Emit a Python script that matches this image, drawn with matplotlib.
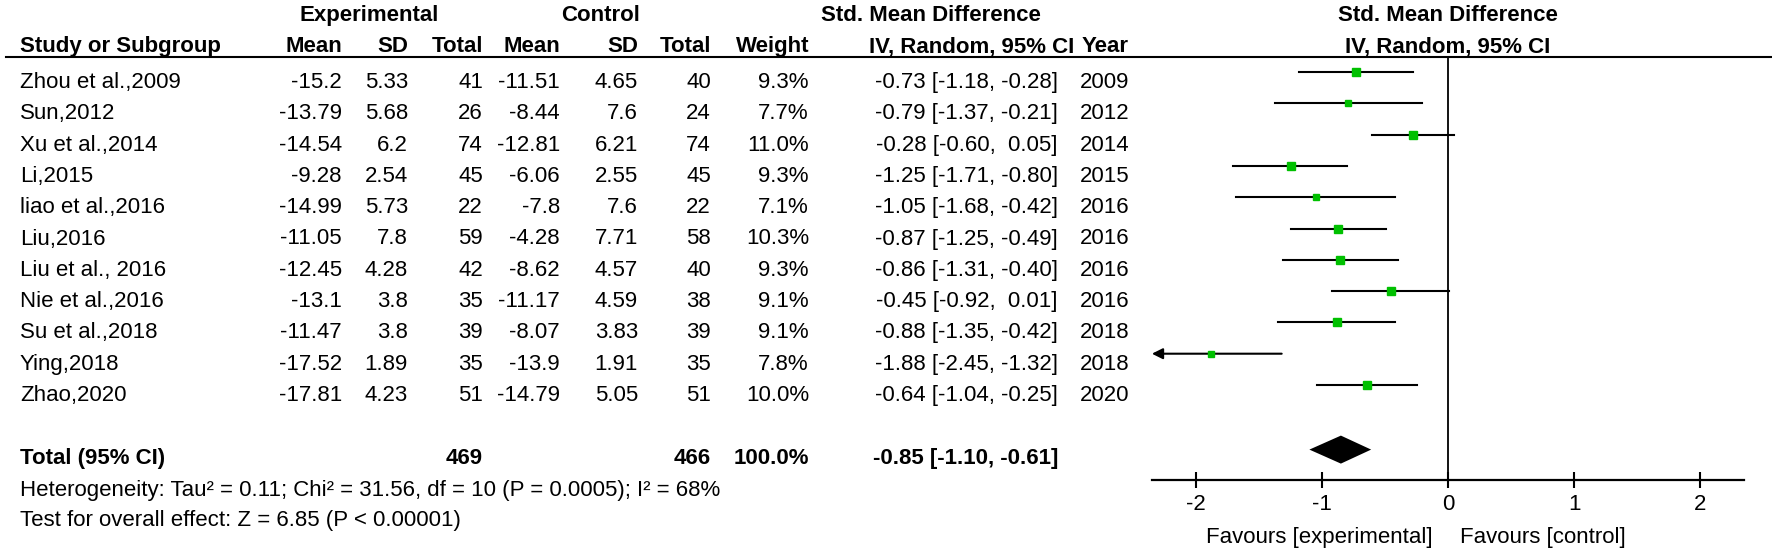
import matplotlib.pyplot as plt
import numpy as np

plt.rcParams["font.family"] = ["Liberation Sans", "DejaVu Sans"]

studies = ["Zhou et al.,2009", "Sun,2012", "Xu et al.,2014", "Li,2015", "liao et al.,2016",
           "Liu,2016", "Liu et al., 2016", "Nie et al.,2016", "Su et al.,2018", "Ying,2018",
           "Zhao,2020"]
exp_mean = [-15.2, -13.79, -14.54, -9.28, -14.99, -11.05, -12.45, -13.1, -11.47, -17.52, -17.81]
exp_sd = [5.33, 5.68, 6.2, 2.54, 5.73, 7.8, 4.28, 3.8, 3.8, 1.89, 4.23]
exp_n = [41, 26, 74, 45, 22, 59, 42, 35, 39, 35, 51]
ctl_mean = [-11.51, -8.44, -12.81, -6.06, -7.8, -4.28, -8.62, -11.17, -8.07, -13.9, -14.79]
ctl_sd = [4.65, 7.6, 6.21, 2.55, 7.6, 7.71, 4.57, 4.59, 3.83, 1.91, 5.05]
ctl_n = [40, 24, 74, 45, 22, 58, 40, 38, 39, 35, 51]
weight = [9.3, 7.7, 11.0, 9.3, 7.1, 10.3, 9.3, 9.1, 9.1, 7.8, 10.0]
smd = [-0.73, -0.79, -0.28, -1.25, -1.05, -0.87, -0.86, -0.45, -0.88, -1.88, -0.64]
ci_lo = [-1.18, -1.37, -0.60, -1.71, -1.68, -1.25, -1.31, -0.92, -1.35, -2.45, -1.04]
ci_hi = [-0.28, -0.21, 0.05, -0.80, -0.42, -0.49, -0.40, 0.01, -0.42, -1.32, -0.25]
years = [2009, 2012, 2014, 2015, 2016, 2016, 2016, 2016, 2018, 2018, 2020]

total_exp, total_ctl = 469, 466
total_smd, total_lo, total_hi = -0.85, -1.10, -0.61
heterogeneity = "Heterogeneity: Tau² = 0.11; Chi² = 31.56, df = 10 (P = 0.0005); I² = 68%"
overall = "Test for overall effect: Z = 6.85 (P < 0.00001)"
xticks = [-2, -1, 0, 1, 2]
xlim = (-2.35, 2.35)

W, H = 1772, 554
FS = 16
fig = plt.figure(figsize=(W / 100, H / 100), dpi=100)

# text layer in pixel coordinates
tab = fig.add_axes([0, 0, 1, 1])
tab.set_xlim(0, W)
tab.set_ylim(H, 0)
tab.axis("off")


def num(v):
    # keep a blank where the minus sign would be, like RevMan
    s = f"{v:.2f}"
    return s if v < 0 else " " + s


def ci_text(m, lo, hi):
    return f"{m:.2f} [{num(lo)}, {num(hi)}]"


def put(x, y, s, ha="left", bold=False):
    tab.text(x, y, s, ha=ha, va="baseline", fontsize=FS,
             fontweight="bold" if bold else "normal")


LEFT = 20
# headers
put(369, 21, "Experimental", "center", True)
put(601, 21, "Control", "center", True)
put(931, 21, "Std. Mean Difference", "center", True)
put(1448, 21, "Std. Mean Difference", "center", True)
hy = 52
put(LEFT, hy, "Study or Subgroup", bold=True)
for x, s in zip([342, 408, 483, 560, 638, 711, 809],
                ["Mean", "SD", "Total", "Mean", "SD", "Total", "Weight"]):
    put(x, hy, s, "right", True)
put(1074, hy, "IV, Random, 95% CI", "right", True)
put(1082, hy, "Year", bold=True)
put(1448, hy, "IV, Random, 95% CI", "center", True)
tab.plot([6, W], [56.5, 56.5], color="k", lw=1.5)

row0, step = 80, 31.3
rows = row0 + step * np.arange(len(studies))
for i, y in enumerate(rows):
    b = y + 8
    put(LEFT, b, studies[i])
    put(342, b, str(exp_mean[i]), "right")
    put(408, b, str(exp_sd[i]), "right")
    put(483, b, str(exp_n[i]), "right")
    put(560, b, str(ctl_mean[i]), "right")
    put(638, b, str(ctl_sd[i]), "right")
    put(711, b, str(ctl_n[i]), "right")
    put(809, b, f"{weight[i]:.1f}%", "right")
    put(1058, b, ci_text(smd[i], ci_lo[i], ci_hi[i]), "right")
    put(1080, b, str(years[i]))

ty = rows[-1] + 2 * step
put(LEFT, ty + 8, "Total (95% CI)", bold=True)
put(483, ty + 8, str(total_exp), "right", True)
put(711, ty + 8, str(total_ctl), "right", True)
put(809, ty + 8, f"{sum(weight):.1f}%", "right", True)
put(1058, ty + 8, ci_text(total_smd, total_lo, total_hi), "right", True)
put(LEFT, 496, heterogeneity)
put(LEFT, 526, overall)

# forest panel, 126 px per unit, zero at x=1448
top, bottom = 56, 480
x0 = 1448 - 126 * 2.35
fa = fig.add_axes([x0 / W, 1 - bottom / H, 126 * 4.7 / W, (bottom - top) / H])
fa.set_xlim(*xlim)
fa.set_ylim(bottom, top)
fa.patch.set_alpha(0)
for side in ["top", "right", "left"]:
    fa.spines[side].set_visible(False)
fa.spines["bottom"].set_linewidth(1.6)
fa.set_yticks([])
fa.set_xticks(xticks)
fa.set_xticklabels([str(t) for t in xticks], fontsize=FS)
fa.tick_params(axis="x", direction="inout", length=12, width=1.5, pad=4)
fa.axvline(0, color="k", lw=1.3)

fy = rows - 8
for i, y in enumerate(fy):
    if ci_lo[i] < xlim[0]:
        fa.annotate("", xy=(xlim[0], y), xytext=(ci_hi[i], y),
                    arrowprops=dict(arrowstyle="-|>", color="k", lw=1.5,
                                    mutation_scale=16, shrinkA=0, shrinkB=0))
    else:
        fa.plot([ci_lo[i], ci_hi[i]], [y, y], color="k", lw=1.5)
    fa.plot(smd[i], y, marker="s", ms=1.8 * np.sqrt(weight[i]), color="#00c000",
            mec="#00c000", zorder=3)

dy = ty - 6
fa.fill([total_lo, total_smd, total_hi, total_smd], [dy, dy - 14, dy, dy + 14],
        color="k", lw=0)

tab.text(1433, 543, "Favours [experimental]", ha="right", va="baseline", fontsize=FS)
tab.text(1460, 543, "Favours [control]", ha="left", va="baseline", fontsize=FS)

fig.savefig("out.png", dpi=100)
